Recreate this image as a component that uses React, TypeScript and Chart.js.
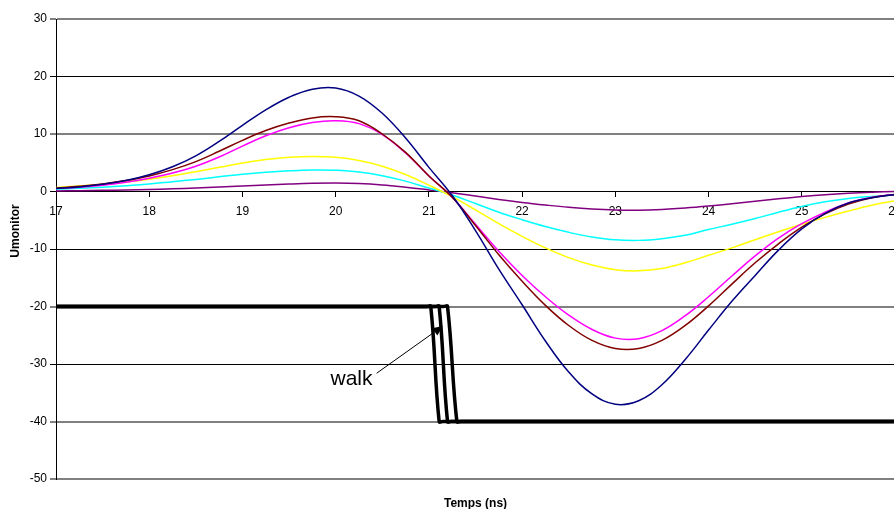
import React, { useEffect, useRef } from 'react';
import { Chart, registerables } from 'chart.js';

Chart.register(...registerables);

const FONT = "'Liberation Sans', Arial, Helvetica, sans-serif";

// Time axis (ns) shared by the six pulses
const TIME_NS = [
  17, 17.25, 17.5, 17.75, 18, 18.25, 18.5, 18.75, 19, 19.25, 19.5, 19.75,
  20, 20.25, 20.5, 20.75, 21, 21.25, 21.5, 21.75, 22, 22.25, 22.5, 22.75,
  23, 23.25, 23.5, 23.75, 24, 24.25, 24.5, 24.75, 25, 25.25, 25.5, 25.75, 26,
];

const NAVY = [
  0.5, 0.8, 1.25, 1.9, 2.9, 4.3, 6.2, 8.7, 11.5, 14.2, 16.4, 17.8,
  18.0, 16.6, 13.6, 9.3, 4.2, -0.7, -6.8, -13.5, -19.7, -26.0, -31.4, -35.2,
  -37.0, -36.4, -33.6, -29.2, -24.1, -19.1, -14.6, -10.2, -6.5, -3.8, -2.0, -1.1, -0.5,
];
const BROWN = [
  0.6, 0.9, 1.3, 1.9, 2.7, 3.8, 5.2, 7.0, 8.9, 10.6, 11.9, 12.8,
  13.0, 12.3, 10.0, 6.8, 2.7, -1.0, -5.9, -11.0, -15.6, -19.8, -23.3, -25.9,
  -27.3, -27.3, -25.9, -23.3, -19.9, -16.1, -12.4, -9.1, -6.2, -3.9, -2.2, -1.1, -0.5,
];
const MAGENTA = [
  0.5, 0.75, 1.1, 1.6, 2.3, 3.2, 4.4, 6.0, 7.9, 9.7, 11.1, 12.0,
  12.3, 11.8, 9.9, 6.7, 2.7, -1.0, -5.7, -10.4, -14.6, -18.3, -21.5, -24.0,
  -25.5, -25.6, -24.2, -21.6, -18.3, -14.7, -11.2, -8.1, -5.6, -3.6, -2.0, -1.0, -0.5,
];
const YELLOW = [
  0.7, 0.95, 1.25, 1.65, 2.15, 2.75, 3.45, 4.2, 4.95, 5.55, 5.95, 6.1,
  5.95, 5.4, 4.4, 2.95, 1.1, -0.9, -3.2, -5.6, -7.8, -9.8, -11.5, -12.8,
  -13.6, -13.8, -13.4, -12.4, -11.1, -9.8, -8.4, -7.0, -5.7, -4.5, -3.4, -2.4, -1.6,
];
const CYAN = [
  0.4, 0.55, 0.75, 1.0, 1.3, 1.7, 2.1, 2.55, 3.0, 3.35, 3.6, 3.75,
  3.7, 3.4, 2.75, 1.8, 0.6, -0.6, -2.1, -3.6, -4.9, -6.1, -7.1, -7.9,
  -8.4, -8.5, -8.2, -7.6, -6.6, -5.7, -4.7, -3.6, -2.6, -1.8, -1.2, -0.85, -0.6,
];
const PURPLE = [
  0.1, 0.14, 0.2, 0.27, 0.36, 0.47, 0.6, 0.77, 0.95, 1.13, 1.3, 1.43,
  1.48, 1.4, 1.15, 0.75, 0.28, -0.22, -0.8, -1.38, -1.9, -2.35, -2.75, -3.05,
  -3.22, -3.25, -3.12, -2.87, -2.53, -2.13, -1.7, -1.27, -0.88, -0.55, -0.3, -0.12, 0,
];

// Comparator outputs (walk illustration)
const STEP_Y = [-20, -20, -20, -40, -40, -40];
const STEP1_X = [17, 20.98, 21.02, 21.11, 21.15, 26];
const STEP2_X = [17, 21.07, 21.11, 21.2, 21.24, 26];
const STEP3_X = [17, 21.16, 21.2, 21.3, 21.34, 26];

// Annotation (data coordinates)
const WALK_TEXT = 'walk';
const WALK_LABEL_AT = [20.17, -33.65];
const WALK_ARROW_FROM = [20.44, -31.6];
const WALK_ARROW_TO = [21.15, -23.4];

const X_TITLE = 'Temps (ns)';
const Y_TITLE = 'Umonitor';
const GRAY_GRID_VALUES = [30, 10, -20, -40, -50];

export default function App() {
  const ref = useRef<HTMLCanvasElement>(null);

  useEffect(() => {
    const canvas = ref.current;
    if (!canvas) return;
    const xy = (xs: number[], ys: number[]) => xs.map((x, i) => ({ x, y: ys[i] }));

    const pulses: [number[], string][] = [
      [NAVY, '#000080'],
      [BROWN, '#800000'],
      [MAGENTA, '#FF00FF'],
      [YELLOW, '#FFFF00'],
      [CYAN, '#00FFFF'],
      [PURPLE, '#800080'],
    ];
    const datasets: any[] = pulses.map(([ys, c]) => ({
      data: xy(TIME_NS, ys),
      borderColor: c,
      borderWidth: 1.5,
      pointRadius: 0,
      tension: 0.4,
      fill: false,
    }));
    [STEP1_X, STEP2_X, STEP3_X].forEach((xs) => {
      datasets.push({
        data: xy(xs, STEP_Y),
        borderColor: '#000000',
        borderWidth: 3.5,
        pointRadius: 0,
        tension: 0.4,
        fill: false,
        borderJoinStyle: 'round',
        borderCapStyle: 'round',
      });
    });

    const annotations = {
      id: 'annotations',
      afterDatasetsDraw(chart: any) {
        const { ctx, scales } = chart;
        const sx = scales.x;
        const sy = scales.y;
        ctx.save();
        ctx.fillStyle = '#000';
        ctx.font = `21px ${FONT}`;
        ctx.textAlign = 'center';
        ctx.textBaseline = 'alphabetic';
        ctx.fillText(WALK_TEXT, sx.getPixelForValue(WALK_LABEL_AT[0]), sy.getPixelForValue(WALK_LABEL_AT[1]));
        const x1 = sx.getPixelForValue(WALK_ARROW_FROM[0]);
        const y1 = sy.getPixelForValue(WALK_ARROW_FROM[1]);
        const x2 = sx.getPixelForValue(WALK_ARROW_TO[0]);
        const y2 = sy.getPixelForValue(WALK_ARROW_TO[1]);
        const ang = Math.atan2(y2 - y1, x2 - x1);
        const L = 10;
        const W = 4.5;
        const bx = x2 - L * Math.cos(ang);
        const by = y2 - L * Math.sin(ang);
        ctx.strokeStyle = '#000';
        ctx.lineWidth = 1;
        ctx.beginPath();
        ctx.moveTo(x1, y1);
        ctx.lineTo(bx, by);
        ctx.stroke();
        ctx.beginPath();
        ctx.moveTo(x2, y2);
        ctx.lineTo(bx + W * Math.sin(ang), by - W * Math.cos(ang));
        ctx.lineTo(bx - W * Math.sin(ang), by + W * Math.cos(ang));
        ctx.closePath();
        ctx.fill();
        ctx.restore();
      },
      afterDraw(chart: any) {
        const { ctx, chartArea } = chart;
        ctx.save();
        ctx.fillStyle = '#000';
        ctx.font = `bold 12px ${FONT}`;
        ctx.textAlign = 'center';
        ctx.textBaseline = 'middle';
        ctx.translate(chartArea.left - 40, (chartArea.top + chartArea.bottom) / 2 - 18);
        ctx.rotate(-Math.PI / 2);
        ctx.fillText(Y_TITLE, 0, 0);
        ctx.restore();
      },
    };

    const chart = new Chart(canvas, {
      type: 'line',
      data: { datasets },
      options: {
        responsive: false,
        animation: false,
        devicePixelRatio: 1,
        layout: { padding: { left: 0, top: 19, right: 15, bottom: 0 } },
        plugins: {
          legend: { display: false },
          tooltip: { enabled: false },
          title: { display: false },
        },
        scales: {
          x: {
            type: 'linear',
            min: 17,
            max: 26,
            position: { y: 0 } as any,
            ticks: {
              stepSize: 1,
              color: '#000',
              font: { family: FONT, size: 12 },
              padding: 8,
              maxRotation: 0,
              autoSkip: false,
            },
            grid: { drawOnChartArea: false, drawTicks: true, tickLength: 5, color: '#000' },
            border: { display: true, color: '#000', width: 1 },
          },
          xb: {
            type: 'linear',
            axis: 'x',
            position: 'bottom',
            min: 17,
            max: 26,
            ticks: { display: false },
            grid: { display: false, drawTicks: false },
            border: { display: false },
            title: {
              display: true,
              text: X_TITLE,
              color: '#000',
              font: { family: FONT, size: 12, weight: 'bold' },
              padding: { top: 0, bottom: -2 },
            },
            afterFit: (s: any) => {
              s.height = 30;
            },
          } as any,
          y: {
            type: 'linear',
            min: -50,
            max: 30,
            position: 'left',
            ticks: {
              stepSize: 10,
              color: '#000',
              font: { family: FONT, size: 12 },
              padding: 3,
            },
            grid: {
              color: (c: any) => (GRAY_GRID_VALUES.includes(c.tick?.value) ? '#808080' : '#000000'),
              lineWidth: (c: any) => (GRAY_GRID_VALUES.includes(c.tick?.value) ? 2 : 1),
              tickLength: 6,
            },
            border: { display: true, color: '#000', width: 1 },
            afterFit: (s: any) => {
              s.width = 56;
            },
          },
        },
      },
      plugins: [annotations],
    });
    return () => chart.destroy();
  }, []);

  return (
    <div
      style={{
        position: 'fixed',
        left: 0,
        top: 0,
        width: 894,
        height: 509,
        overflow: 'hidden',
        background: '#fff',
      }}
    >
      <canvas ref={ref} width={910} height={509} style={{ display: 'block', width: 910, height: 509 }} />
    </div>
  );
}
